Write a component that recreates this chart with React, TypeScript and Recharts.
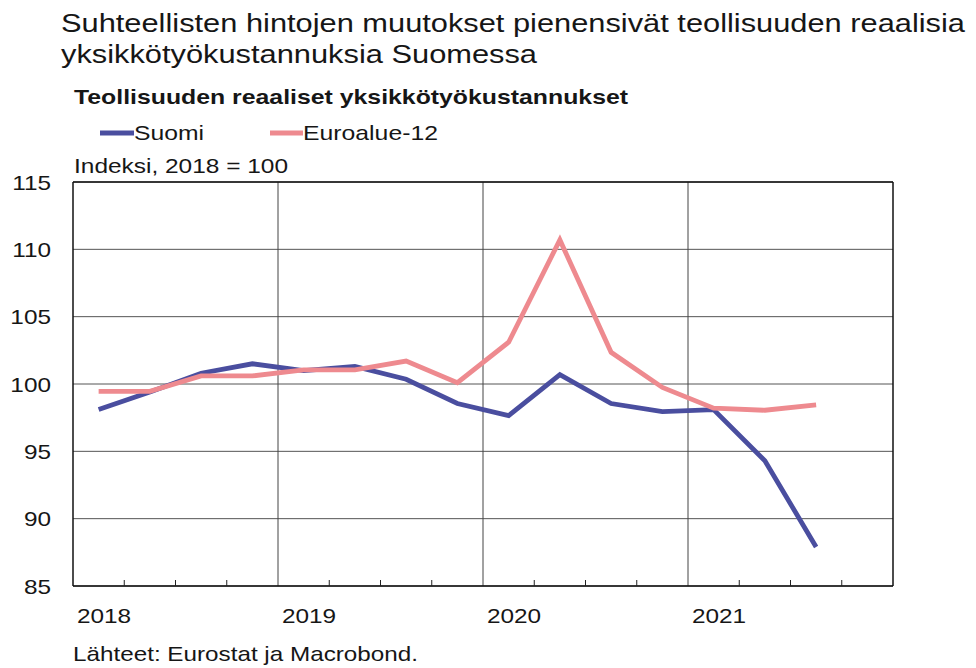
import React from 'react';
import { LineChart, Line, XAxis, YAxis, CartesianGrid, ReferenceLine } from 'recharts';

const quarters = ['2018Q1','2018Q2','2018Q3','2018Q4','2019Q1','2019Q2','2019Q3','2019Q4','2020Q1','2020Q2','2020Q3','2020Q4','2021Q1','2021Q2','2021Q3'];
const suomi = [98.1, 99.4, 100.8, 101.5, 101.0, 101.3, 100.35, 98.55, 97.65, 100.7, 98.55, 97.95, 98.1, 94.3, 87.9];
const euro = [99.45, 99.45, 100.6, 100.6, 101.05, 101.05, 101.7, 100.1, 103.1, 110.7, 102.35, 99.75, 98.2, 98.05, 98.45];
const yTicks = [85, 90, 95, 100, 105, 110, 115];
const xTicks = [0, 1, 2, 3, 4, 5, 6, 7, 8, 9, 10, 11, 12, 13, 14, 15, 16];
const yearLabels: Record<number, string> = { 0: '2018', 4: '2019', 8: '2020', 12: '2021' };

const data = quarters.map((q, i) => ({ q, x: i + 0.5, suomi: suomi[i], euro: euro[i] }));

const FONT = "'Liberation Sans', Arial, Helvetica, sans-serif";
const BLUE = '#4A4E9F';
const PINK = '#EE8A8F';
const TEXT = '#161616';

const YTick = (props: any) => {
  const { x, y, payload } = props;
  return (
    <text transform={`translate(${x},${y + 7.5}) scale(1.16,1)`} textAnchor="end" fontFamily={FONT} fontSize={21} fill={TEXT}>
      {payload.value}
    </text>
  );
};

const XTick = (props: any) => {
  const { x, y, payload } = props;
  const v = payload.value;
  const label = yearLabels[v];
  const showTick = v % 4 !== 0;
  return (
    <g>
      {showTick && <line x1={x} x2={x} y1={y} y2={y - 6} stroke="#222" strokeWidth={1} />}
      {label && (
        <text transform={`translate(${x + 31},${y + 37}) scale(1.16,1)`} textAnchor="middle" fontFamily={FONT} fontSize={21} fill={TEXT}>
          {label}
        </text>
      )}
    </g>
  );
};

export default function App() {
  return (
    <div style={{ position: 'absolute', left: 0, top: 0, width: 976, height: 668, background: '#fff' }}>
      <div style={{ position: 'absolute', left: 0, top: 0 }}>
        <LineChart width={976} height={668} data={data} margin={{ top: 182, right: 83, bottom: 42, left: 13 }}>
          <CartesianGrid vertical={false} stroke="#555" strokeWidth={1} />
          <XAxis
            dataKey="x"
            type="number"
            domain={[0, 16]}
            ticks={xTicks}
            interval={0}
            axisLine={false}
            tickLine={false}
            tickSize={0}
            tickMargin={0}
            height={40}
            tick={<XTick />}
          />
          <YAxis
            type="number"
            domain={[85, 115]}
            ticks={yTicks}
            interval={0}
            width={60}
            axisLine={false}
            tickLine={false}
            tickSize={0}
            tickMargin={22}
            tick={<YTick />}
          />
          <ReferenceLine x={4} stroke="#444" strokeWidth={1} />
          <ReferenceLine x={8} stroke="#444" strokeWidth={1} />
          <ReferenceLine x={12} stroke="#444" strokeWidth={1} />
          <Line dataKey="suomi" stroke={BLUE} strokeWidth={4.8} dot={false} isAnimationActive={false} strokeLinejoin="miter" />
          <Line dataKey="euro" stroke={PINK} strokeWidth={4.8} dot={false} isAnimationActive={false} strokeLinejoin="miter" />
          <ReferenceLine y={115} stroke="#111" strokeWidth={1.5} />
          <ReferenceLine y={85} stroke="#111" strokeWidth={1.5} />
          <ReferenceLine x={0} stroke="#111" strokeWidth={1.5} />
          <ReferenceLine x={16} stroke="#111" strokeWidth={1.5} />
        </LineChart>
      </div>
      <svg width={976} height={668} style={{ position: 'absolute', left: 0, top: 0, pointerEvents: 'none' }}>
        <g fontFamily={FONT} fill={TEXT}>
          <text x={61} y={32} fontSize={25} textLength={904} lengthAdjust="spacingAndGlyphs">
            Suhteellisten hintojen muutokset pienensivät teollisuuden reaalisia
          </text>
          <text x={61} y={63} fontSize={25} textLength={476} lengthAdjust="spacingAndGlyphs">
            yksikkötyökustannuksia Suomessa
          </text>
          <text x={74} y={104} fontSize={21} fontWeight="bold" textLength={554} lengthAdjust="spacingAndGlyphs">
            Teollisuuden reaaliset yksikkötyökustannukset
          </text>
          <line x1={100} x2={134} y1={133} y2={133} stroke={BLUE} strokeWidth={4.8} />
          <text x={134} y={140} fontSize={21} textLength={70} lengthAdjust="spacingAndGlyphs">Suomi</text>
          <line x1={270} x2={303} y1={133} y2={133} stroke={PINK} strokeWidth={4.8} />
          <text x={303} y={140} fontSize={21} textLength={135} lengthAdjust="spacingAndGlyphs">Euroalue-12</text>
          <text x={74} y={173} fontSize={21} textLength={214} lengthAdjust="spacingAndGlyphs">Indeksi, 2018 = 100</text>
          <text x={73} y={661} fontSize={21} textLength={345} lengthAdjust="spacingAndGlyphs">Lähteet: Eurostat ja Macrobond.</text>
        </g>
      </svg>
    </div>
  );
}
